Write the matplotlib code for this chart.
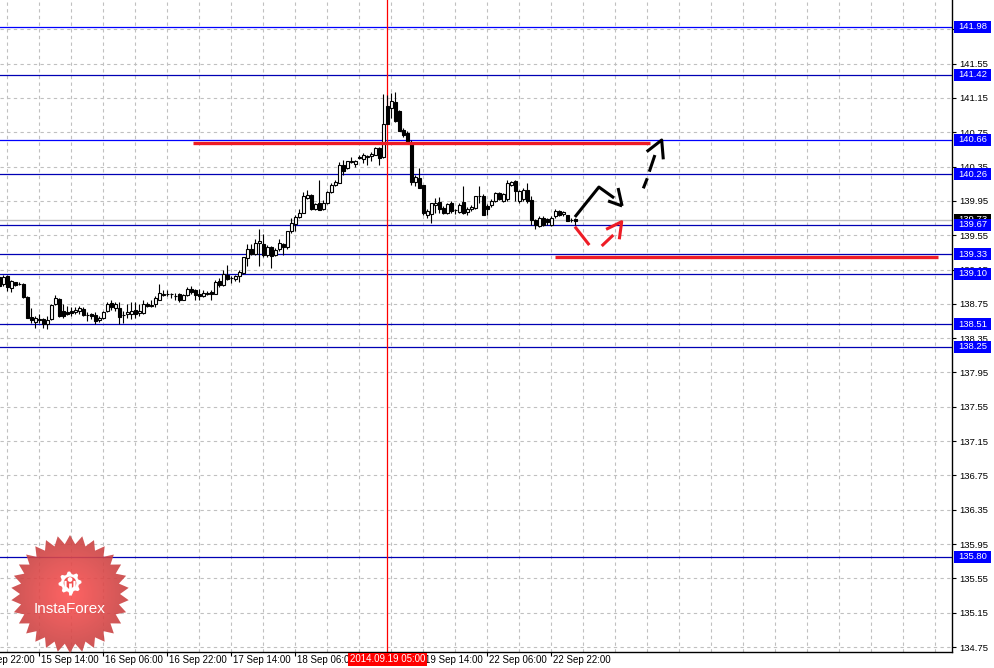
import numpy as np
import matplotlib
matplotlib.use('Agg')
import matplotlib.pyplot as plt
from matplotlib.patches import Rectangle, Polygon, Circle
from matplotlib.transforms import blended_transform_factory

plt.rcParams['font.family'] = ['Liberation Sans Narrow', 'Liberation Sans', 'DejaVu Sans']

# ---------------- data (USD/JPY H1 candles) ----------------
opens = [139.06, 138.98, 139.07, 138.93, 139.00, 138.98, 138.98, 138.83, 138.60, 138.54,
         138.57, 138.57, 138.51, 138.57, 138.75, 138.81, 138.67, 138.66, 138.67, 138.65,
         138.67, 138.69, 138.62, 138.63, 138.62, 138.56, 138.59, 138.67, 138.76, 138.70,
         138.70, 138.62, 138.63, 138.63, 138.68, 138.64, 138.64,
         138.75, 138.74, 138.75, 138.80, 138.85, 138.87, 138.86, 138.84, 138.86, 138.80,
         138.85, 138.92, 138.91, 138.86, 138.84, 138.87, 138.89, 138.87, 139.02, 138.97,
         139.09, 139.05, 139.04, 139.07, 139.11, 139.28, 139.39, 139.33, 139.46, 139.45,
         139.32, 139.41, 139.32, 139.39, 139.45, 139.41, 139.60,
         139.68, 139.76, 139.81, 139.98, 140.02, 139.86, 139.92, 139.85, 139.92, 140.05,
         140.14, 140.16, 140.37, 140.33, 140.40, 140.38, 140.45, 140.44, 140.46, 140.47,
         140.49, 140.57, 140.46, 141.05, 141.03, 141.10, 141.00, 140.78, 140.74, 140.62,
         140.17, 140.22, 140.13, 139.79, 139.80, 139.90,
         139.94, 139.87, 139.81, 139.93, 139.84, 139.82, 139.94, 139.82, 139.85, 139.87,
         140.01, 140.01, 139.89, 139.90, 139.95, 140.04, 139.95, 139.97, 140.14, 140.18,
         139.95, 139.97, 140.08, 139.96, 139.73, 139.66, 139.75, 139.74, 139.67, 139.77,
         139.83, 139.80, 139.78, 139.73, 139.74]
highs = [139.08, 139.09, 139.09, 139.03, 139.01, 139.00, 138.99, 138.84, 138.70, 138.61,
         138.63, 138.59, 138.61, 138.75, 138.85, 138.82, 138.75, 138.73, 138.71, 138.71,
         138.72, 138.71, 138.65, 138.64, 138.65, 138.61, 138.67, 138.77, 138.79, 138.77,
         138.77, 138.67, 138.75, 138.77, 138.77, 138.75, 138.79,
         138.77, 138.79, 138.84, 138.98, 138.91, 138.91, 138.88, 138.88, 138.88, 138.86,
         138.95, 138.96, 138.92, 138.92, 138.91, 138.90, 138.91, 139.03, 139.05, 139.15,
         139.20, 139.08, 139.09, 139.14, 139.30, 139.45, 139.45, 139.51, 139.62, 139.56,
         139.43, 139.42, 139.40, 139.50, 139.46, 139.60, 139.75,
         139.79, 139.86, 140.05, 140.08, 140.03, 139.92, 140.19, 139.96, 140.06, 140.16,
         140.19, 140.40, 140.43, 140.42, 140.46, 140.43, 140.48, 140.51, 140.48, 140.52,
         140.58, 140.58, 141.20, 141.18, 141.21, 141.22, 141.01, 140.80, 140.76, 140.66,
         140.25, 140.33, 140.13, 139.86, 139.93, 139.98,
         139.99, 139.89, 139.93, 139.95, 139.86, 139.92, 140.12, 139.88, 139.90, 140.01,
         140.12, 140.03, 139.91, 139.97, 140.05, 140.05, 140.04, 140.19, 140.18, 140.19,
         140.08, 140.10, 140.16, 140.01, 139.74, 139.77, 139.77, 139.75, 139.77, 139.85,
         139.84, 139.83, 139.79, 139.75, 139.75]
lows = [138.95, 138.96, 138.90, 138.89, 138.96, 138.97, 138.82, 138.58, 138.53, 138.47,
        138.53, 138.47, 138.46, 138.56, 138.74, 138.60, 138.59, 138.62, 138.61, 138.63,
        138.63, 138.61, 138.55, 138.57, 138.52, 138.54, 138.57, 138.65, 138.68, 138.67,
        138.51, 138.53, 138.59, 138.57, 138.59, 138.61, 138.63,
        138.71, 138.71, 138.71, 138.80, 138.84, 138.84, 138.82, 138.80, 138.77, 138.79,
        138.84, 138.86, 138.80, 138.80, 138.83, 138.85, 138.80, 138.86, 138.95, 138.96,
        139.03, 138.99, 139.02, 139.00, 139.10, 139.19, 139.32, 139.32, 139.19, 139.29,
        139.29, 139.17, 139.31, 139.37, 139.32, 139.39, 139.58,
        139.60, 139.75, 139.81, 139.97, 139.84, 139.84, 139.84, 139.84, 139.91, 140.04,
        140.12, 140.16, 140.25, 140.32, 140.39, 140.35, 140.44, 140.39, 140.37, 140.41,
        140.48, 140.37, 140.45, 140.84, 140.91, 140.87, 140.76, 140.70, 140.62, 140.14,
        140.12, 140.10, 139.79, 139.75, 139.69, 139.81,
        139.81, 139.80, 139.80, 139.81, 139.80, 139.81, 139.80, 139.79, 139.83, 139.86,
        139.93, 139.78, 139.79, 139.88, 139.94, 139.96, 139.94, 139.95, 140.12, 139.95,
        139.93, 139.95, 139.93, 139.67, 139.62, 139.65, 139.66, 139.67, 139.66, 139.75,
        139.77, 139.77, 139.71, 139.70, 139.67]
closes = [138.96, 139.06, 138.95, 139.02, 138.97, 138.98, 138.83, 138.59, 138.56, 138.58,
          138.56, 138.52, 138.56, 138.74, 138.82, 138.61, 138.61, 138.63, 138.64, 138.68,
          138.70, 138.62, 138.62, 138.61, 138.55, 138.59, 138.65, 138.75, 138.71, 138.75,
          138.60, 138.62, 138.65, 138.67, 138.63, 138.67, 138.75,
          138.72, 138.72, 138.82, 138.88, 138.87, 138.87, 138.86, 138.84, 138.79, 138.85,
          138.92, 138.89, 138.85, 138.84, 138.88, 138.88, 138.86, 139.01, 138.97, 139.10,
          139.04, 139.05, 139.08, 139.12, 139.29, 139.39, 139.33, 139.46, 139.48, 139.32,
          139.41, 139.31, 139.38, 139.46, 139.41, 139.60, 139.69,
          139.76, 139.81, 140.01, 140.02, 139.86, 139.91, 139.84, 139.93, 140.05, 140.14,
          140.17, 140.37, 140.30, 140.41, 140.41, 140.42, 140.46, 140.49, 140.47, 140.50,
          140.57, 140.45, 140.85, 140.84, 141.11, 140.88, 140.76, 140.72, 140.64, 140.17,
          140.23, 140.10, 139.81, 139.83, 139.92, 139.93,
          139.86, 139.81, 139.91, 139.83, 139.84, 139.90, 139.81, 139.86, 139.88, 140.01,
          140.01, 139.79, 139.85, 139.95, 140.04, 139.97, 140.03, 140.16, 140.17, 140.07,
          140.06, 140.08, 139.95, 139.73, 139.67, 139.75, 139.67, 139.70, 139.75, 139.83,
          139.78, 139.82, 139.72, 139.73, 139.72]

# time axis: labels every 16 bars; the one under the crosshair box is not shown
x_labels = ["12 Sep 22:00", "15 Sep 14:00", "16 Sep 06:00", "16 Sep 22:00", "17 Sep 14:00",
            "18 Sep 06:00", "", "19 Sep 14:00", "22 Sep 06:00", "22 Sep 22:00"]
first_label_bar = -6
label_step = 16
grid_step = 8
crosshair_bar = 97
crosshair_label = "2014.09.19 05:00"

level_prices = [141.98, 141.42, 140.66, 140.26, 139.67, 139.33, 139.10, 138.51, 138.25, 135.80]
level_line_colors = ['#0000ff', '#0000b4', '#0000ff', '#0000b4', '#0000b4',
                     '#0000b4', '#0000b4', '#0000b4', '#0000b4', '#0000b4']
bid_price = 139.73
y_tick_start = 134.75
y_tick_step = 0.40
y_tick_count = 19
hidden_y_labels = [141.95]   # covered by the 141.98 box in the reference

# analyst drawings (bar index, price)
red_levels = [(140.625, 48.4, 162.7), (139.30, 138.9, 234.7)]
black_solid = [([143.9, 149.9, 153.7], [139.762, 140.111, 139.984]),
               ([152.2, 155.7], [139.949, 139.891]),
               ([154.7, 155.7], [140.100, 139.891])]
black_dashed = [([161.0, 162.0], [140.096, 140.213]),
                ([162.5, 163.9], [140.290, 140.484]),
                ([161.85, 165.6, 166.0], [140.523, 140.659, 140.434])]
red_dashed = [([143.9, 147.5], [139.649, 139.435]),
              ([150.6, 153.5], [139.424, 139.552]),
              ([151.7, 155.6, 155.0], [139.618, 139.707, 139.502])]

# ---------------- figure ----------------
W, H = 994, 668
fig = plt.figure(figsize=(W / 100, H / 100), dpi=100)
fig.patch.set_facecolor('white')
ax = fig.add_axes([0, 16 / H, 952 / W, 652 / H])
ax.set_facecolor('white')

o = np.array(opens); hi = np.array(highs); lo = np.array(lows); c = np.array(closes)
xs = np.arange(len(o))

# grid
grid_col = '#c0c0c0'
yticks = y_tick_start + y_tick_step * np.arange(y_tick_count)
for yv in yticks:
    ax.axhline(yv, color=grid_col, lw=0.8, ls=(0, (3, 3)), zorder=1)
for xv in np.arange(first_label_bar % grid_step, 240, grid_step):
    ax.axvline(xv, color=grid_col, lw=0.8, ls=(0, (3, 3)), zorder=1)

# level lines
for p, col in zip(level_prices, level_line_colors):
    ax.axhline(p, color=col, lw=0.9, zorder=2)
ax.axhline(bid_price, color='#c0c0c0', lw=1.0, zorder=2)

# crosshair
ax.axvline(crosshair_bar, color='#ff0000', lw=0.9, zorder=2.5)

# candles
ax.vlines(xs, lo, hi, color='black', lw=0.8, zorder=3)
up = c >= o
ax.bar(xs, np.abs(c - o), bottom=np.minimum(o, c), width=0.68,
       color=np.where(up, 'white', 'black'), edgecolor='black', linewidth=0.8, zorder=4)

# analyst red levels and arrows
for p, x0, x1 in red_levels:
    ax.hlines(p, x0, x1, color='#ee1c25', lw=2.4, zorder=6)
for xx, yy in black_solid:
    ax.plot(xx, yy, color='black', lw=2.2, solid_capstyle='butt', zorder=7)
for xx, yy in black_dashed:
    ax.plot(xx, yy, color='black', lw=2.2, solid_capstyle='butt', zorder=7)
for xx, yy in red_dashed:
    ax.plot(xx, yy, color='#ee1c25', lw=2.2, solid_capstyle='butt', zorder=7)

# spines / ticks
for s in ['left', 'top']:
    ax.spines[s].set_visible(False)
for s in ['right', 'bottom']:
    ax.spines[s].set_color('black')
    ax.spines[s].set_linewidth(1.0)
ax.yaxis.tick_right()
ylabels = ['' if any(abs(v - h) < 1e-6 for h in hidden_y_labels) else '%.2f' % v for v in yticks]
ax.set_yticks(yticks, labels=ylabels)
ax.tick_params(axis='y', direction='out', length=3, width=0.8, pad=2, labelsize=6.8, colors='black')
for t in ax.get_yticklabels():
    t.set_fontfamily(['Liberation Sans', 'DejaVu Sans'])
label_bars = first_label_bar + label_step * np.arange(len(x_labels))
ax.set_xticks(label_bars, labels=[''] * len(label_bars))
ax.tick_params(axis='x', direction='out', length=3, width=0.8)

# limits (after ticks so they are not widened)
ax.set_xlim(0.175, 238.175)
ax.set_ylim(134.692, 142.291)

trans_xfig = blended_transform_factory(ax.transData, fig.transFigure)
for b, lab in zip(label_bars, x_labels):
    if lab:
        ax.text(b + 0.5, (H - 655) / H, lab, transform=trans_xfig, ha='left', va='top',
                fontsize=7.0, color='black', clip_on=False, zorder=8)

# crosshair time box
ax.add_patch(Rectangle((crosshair_bar - 9.9, (H - 666) / H), 19.75, 13 / H,
                       transform=trans_xfig, fc='#ff0000', ec='none', clip_on=False, zorder=9))
ax.text(crosshair_bar, (H - 659.5) / H, crosshair_label, transform=trans_xfig, ha='center',
        va='center', fontsize=7.0, color='white', clip_on=False, zorder=10)

# price boxes on right axis
trans_fy = blended_transform_factory(fig.transFigure, ax.transData)
ppx = 85.8  # px per price unit
bw, bh = 37, 12
ax.add_patch(Rectangle((954 / W, bid_price - bh / 2 / ppx), bw / W, bh / ppx, transform=trans_fy,
                       fc='black', ec='none', clip_on=False, zorder=10))
ax.text(972.5 / W, bid_price, '%.2f' % bid_price, transform=trans_fy, ha='center', va='center',
        fontsize=6.8, color='white', clip_on=False, zorder=10.5,
        family=['Liberation Sans', 'DejaVu Sans'])
for p in level_prices:
    ax.add_patch(Rectangle((954 / W, p - bh / 2 / ppx), bw / W, bh / ppx, transform=trans_fy,
                           fc='#0000ff', ec='none', clip_on=False, zorder=11))
    ax.text(972.5 / W, p, '%.2f' % p, transform=trans_fy, ha='center', va='center',
            fontsize=6.8, color='white', clip_on=False, zorder=12,
            family=['Liberation Sans', 'DejaVu Sans'])

# ---------------- InstaForex logo ----------------
lax = fig.add_axes([5 / W, (H - 659) / H, 130 / W, 130 / H])
lax.set_zorder(20)
lax.patch.set_visible(False)
lax.axis('off')
cx, cy = 70, 594
nsp = 30
ang = np.linspace(0, 2 * np.pi, 2 * nsp, endpoint=False) + np.pi / 2
rad = np.where(np.arange(2 * nsp) % 2 == 0, 59, 50)
star = Polygon(np.c_[cx + rad * np.cos(ang), cy - rad * np.sin(ang)], closed=True,
               fc='none', ec='none')
lax.add_patch(star)
yy, xx = np.mgrid[529:659:260j, 5:135:260j]
d = np.clip(np.hypot(xx - cx, yy - cy) / 60, 0, 1)
cen = np.array([1.0, 0.32, 0.32]); edg = np.array([0.78, 0.26, 0.26])
img = np.zeros((260, 260, 4))
img[..., :3] = cen * (1 - d[..., None]) + edg * d[..., None]
img[..., 3] = 0.9
im = lax.imshow(img, extent=(5, 135, 659, 529), origin='upper', aspect='auto', zorder=1)
im.set_clip_path(star)
# gear icon
gcx, gcy = 70, 583
nt = 8
ga = np.linspace(0, 2 * np.pi, nt * 4, endpoint=False)
gr = np.where((np.arange(nt * 4) // 2) % 2 == 0, 11.5, 9.0)
lax.add_patch(Polygon(np.c_[gcx + gr * np.cos(ga), gcy - gr * np.sin(ga)], closed=True,
                      fc='white', ec='none', zorder=3))
lax.add_patch(Circle((gcx, gcy), 6.3, fc='#f25050', ec='none', zorder=4))
lax.add_patch(Circle((gcx, gcy - 3.5), 2.4, fc='white', ec='none', zorder=5))
lax.plot([gcx, gcx], [gcy, gcy + 12], color='white', lw=2.0, zorder=5, solid_capstyle='butt')
lax.plot([gcx - 4.5, gcx - 4.5, gcx - 1.5], [gcy - 1, gcy + 4, gcy + 7], color='white', lw=1.6, zorder=5)
lax.plot([gcx + 4.5, gcx + 4.5, gcx + 1.5], [gcy - 1, gcy + 4, gcy + 7], color='white', lw=1.6, zorder=5)
lax.text(cx, 609, 'InstaForex', color='white', fontsize=11, ha='center', va='center',
         family=['Liberation Sans', 'DejaVu Sans'], zorder=6)
lax.set_xlim(5, 135)
lax.set_ylim(659, 529)

fig.savefig('out.png', dpi=100)
